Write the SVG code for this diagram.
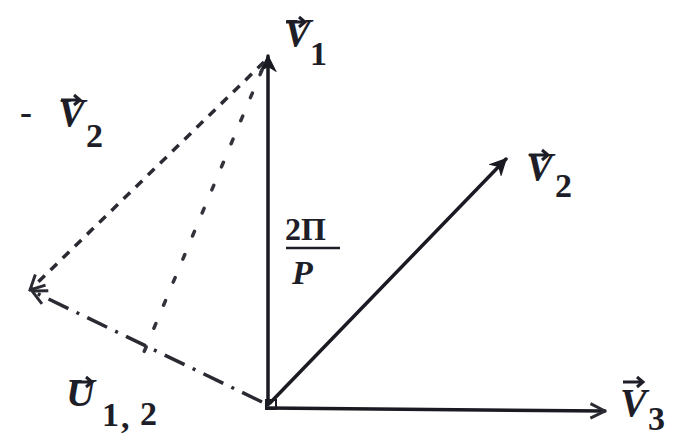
<svg xmlns="http://www.w3.org/2000/svg" width="675" height="442" viewBox="0 0 675 442">
<style>
.v{stroke:#1a1a22;stroke-width:3.5;fill:none;stroke-linecap:round}
.dash{stroke:#2a2a33;stroke-width:3.5;fill:none;stroke-dasharray:9 8}
.dd{stroke:#2a2a33;stroke-width:3.5;fill:none;stroke-dasharray:22 9 3 9}
.dot{stroke:#33333c;stroke-width:3.5;fill:none;stroke-dasharray:5 20;stroke-linecap:round}
.t{font-family:"Liberation Serif",serif;font-style:italic;font-weight:bold;fill:#1e1e28}
.s{font-family:"Liberation Serif",serif;font-weight:bold;fill:#1e1e28}
.acc{stroke:#1e1e28;stroke-width:3;fill:none}
</style>
<defs>
<marker id="ah" viewBox="0 0 12 12" refX="11" refY="6" markerWidth="5" markerHeight="5" orient="auto" markerUnits="strokeWidth">
<path d="M1,1 L11,6 L1,11 L4,6 Z" fill="#1a1a22" stroke="#1a1a22" stroke-width="1"/>
</marker>
<marker id="ch" viewBox="0 0 12 12" refX="11" refY="6" markerWidth="5" markerHeight="5" orient="auto" markerUnits="strokeWidth">
<path d="M1,1 L11,6 L1,11" fill="none" stroke="#2a2a33" stroke-width="2"/>
</marker>
</defs>
<g id="connectors">
<line class="v" x1="268" y1="405" x2="268" y2="56" marker-end="url(#ah)"/>
<line class="v" x1="270" y1="403" x2="506" y2="159" marker-end="url(#ah)"/>
<line class="v" x1="268" y1="408" x2="605" y2="411" marker-end="url(#ch)"/>
<line class="dash" x1="264" y1="62" x2="30" y2="290" marker-end="url(#ch)"/>
<line class="dd" x1="262" y1="402" x2="32" y2="291" marker-end="url(#ch)"/>
<line class="dot" x1="262" y1="70" x2="144" y2="352"/>
<rect x="266" y="400" width="10" height="9" fill="none" stroke="#1a1a22" stroke-width="2"/>
</g>
<g id="label-v1">
<text class="t" x="284" y="46" font-size="40">V</text>
<path class="acc" d="M286,22 L304,22 M299,17 L305,22 L299,27"/>
<text class="s" x="310" y="65" font-size="34">1</text>
</g>
<g id="label-v2">
<text class="t" x="526" y="180" font-size="40">V</text>
<path class="acc" d="M529,155 L547,155 M542,150 L548,155 L542,160"/>
<text class="s" x="555" y="197" font-size="34">2</text>
</g>
<g id="label-v3">
<text class="t" x="620" y="416" font-size="40">V</text>
<path class="acc" d="M623,382 L643,382 M637,377 L643,382 L637,387"/>
<text class="s" x="648" y="430" font-size="34">3</text>
</g>
<g id="label-minus-v2">
<text class="s" x="20" y="124" font-size="36">-</text>
<text class="t" x="58" y="126" font-size="40">V</text>
<path class="acc" d="M61,100 L79,100 M74,95 L80,100 L74,105"/>
<text class="s" x="86" y="147" font-size="34">2</text>
</g>
<g id="label-u12">
<text class="t" x="66" y="406" font-size="40">U</text>
<path class="acc" d="M72,382 L92,382 M86,377 L92,382 L86,387"/>
<text class="s" x="102" y="426" font-size="34">1</text>
<text class="s" x="121" y="428" font-size="34">,</text>
<text class="s" x="140" y="425" font-size="34">2</text>
</g>
<g id="label-angle">
<text class="s" x="285" y="240" font-size="32">2Π</text>
<line x1="286" y1="248" x2="340" y2="248" stroke="#1e1e28" stroke-width="2.5"/>
<text class="t" x="292" y="284" font-size="34">P</text>
</g>
</svg>
